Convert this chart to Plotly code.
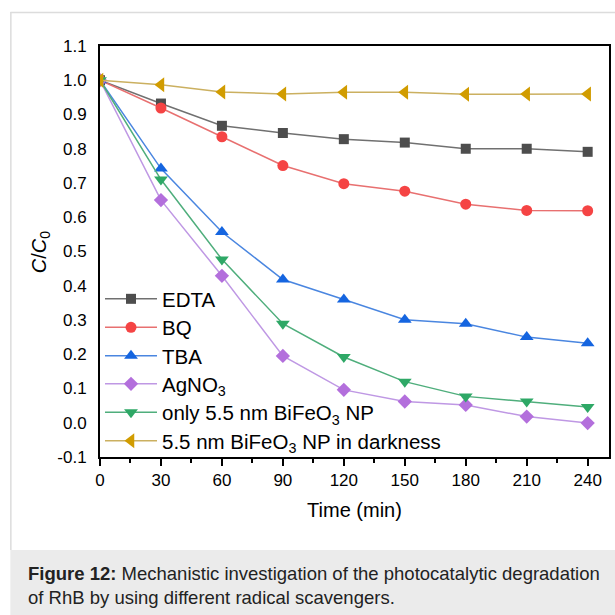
import plotly.graph_objects as go

time_min = [0, 30, 60, 90, 120, 150, 180, 210, 240]
edta = [1.0, 0.932, 0.867, 0.846, 0.828, 0.818, 0.800, 0.800, 0.791]
bq = [1.0, 0.919, 0.835, 0.751, 0.698, 0.676, 0.638, 0.620, 0.619]
tba = [1.0, 0.742, 0.557, 0.418, 0.360, 0.301, 0.289, 0.250, 0.232]
agno3 = [1.0, 0.650, 0.429, 0.195, 0.096, 0.062, 0.052, 0.018, -0.001]
only_np = [1.0, 0.710, 0.477, 0.289, 0.192, 0.120, 0.077, 0.062, 0.046]
darkness = [1.0, 0.987, 0.966, 0.960, 0.965, 0.965, 0.959, 0.960, 0.960]

series_names = ["EDTA", "BQ", "TBA", "AgNO<sub>3</sub>",
                "only 5.5 nm BiFeO<sub>3</sub> NP",
                "5.5 nm BiFeO<sub>3</sub> NP in darkness"]
series_values = [edta, bq, tba, agno3, only_np, darkness]
marker_colors = ["#4d4d4d", "#f54444", "#1565e0", "#b36fdc", "#2ea866", "#d19c00"]
line_colors = ["#707070", "#e87070", "#4a86e0", "#bf98e4", "#4fae7c", "#cbb060"]
symbols = ["square", "circle", "triangle-up", "diamond", "triangle-down", "triangle-left"]
sizes = [10, 11, 12, 11, 12, 13]

y_ticks = [-0.1, 0.0, 0.1, 0.2, 0.3, 0.4, 0.5, 0.6, 0.7, 0.8, 0.9, 1.0, 1.1]
y_tick_labels = ["-0.1", "0.0", "0.1", "0.2", "0.3", "0.4", "0.5", "0.6", "0.7", "0.8", "0.9", "1.0", "1.1"]
x_ticks = [0, 30, 60, 90, 120, 150, 180, 210, 240]

FONT = "Liberation Sans, Arial, sans-serif"

W = 511.0
H = 411.0
def px_x(p):
    return (p - 100) / W
def px_y(p):
    return (457 - p) / H

legend_rows_px = [299, 327.5, 356, 384, 412.5, 441]

fig = go.Figure()
legend_layouts = {}
for i, (name, vals) in enumerate(zip(series_names, series_values)):
    lname = "legend" if i == 0 else f"legend{i + 1}"
    fig.add_trace(go.Scatter(
        x=time_min, y=vals, name=name, mode="lines+markers",
        line=dict(color=line_colors[i], width=1.5),
        marker=dict(symbol=symbols[i], size=sizes[i], color=marker_colors[i],
                    line=dict(width=0)),
        legend=lname,
    ))
    legend_layouts[lname] = dict(
        x=0.0, y=px_y(legend_rows_px[i]), xanchor="left", yanchor="middle",
        bgcolor="rgba(0,0,0,0)", font=dict(size=20.5, family=FONT),
        itemwidth=52, borderwidth=0,
    )

fig.update_layout(
    width=615, height=615,
    margin=dict(l=100, r=4, t=46, b=158),
    paper_bgcolor="white", plot_bgcolor="white",
    font=dict(family=FONT, color="#000000"),
    showlegend=True,
    xaxis=dict(
        range=[0, 250.5], tickvals=x_ticks, ticks="outside", ticklen=7, tickwidth=1.5,
        tickcolor="#000", showline=True, linecolor="#000", linewidth=2, mirror=True,
        showgrid=False, zeroline=False, tickfont=dict(size=17),
        minor=dict(dtick=15, tick0=0, ticks="outside", ticklen=4, tickcolor="#000", tickwidth=1.5),
        title=dict(text="Time (min)", font=dict(size=20), standoff=14),
    ),
    yaxis=dict(
        range=[-0.1, 1.1], tickvals=y_ticks, ticktext=y_tick_labels, ticks="",
        showline=True, linecolor="#000", linewidth=2, mirror=True,
        showgrid=False, zeroline=False, tickfont=dict(size=17), ticklabelstandoff=8,
    ),
    shapes=[
        dict(type="rect", xref="paper", yref="paper", x0=px_x(10), x1=px_x(620),
             y0=px_y(550), y1=px_y(620), fillcolor="#ebebeb", line=dict(width=0), layer="below"),
        dict(type="line", xref="paper", yref="paper", x0=px_x(10.5), x1=px_x(10.5),
             y0=px_y(12), y1=px_y(550), line=dict(color="#dcdcdc", width=1.5)),
        dict(type="line", xref="paper", yref="paper", x0=px_x(10), x1=px_x(620),
             y0=px_y(12.5), y1=px_y(12.5), line=dict(color="#dcdcdc", width=1.5)),
    ],
    annotations=[
        dict(text="<i>C</i>/<i>C</i><sub>0</sub>", xref="paper", yref="paper",
             x=px_x(40), y=px_y(252), textangle=-90, showarrow=False,
             font=dict(size=20), xanchor="center", yanchor="middle"),
        dict(text="<b>Figure 12:</b> Mechanistic investigation of the photocatalytic degradation<br>of RhB by using different radical scavengers.",
             xref="paper", yref="paper", x=px_x(26), y=px_y(585), xanchor="left", yanchor="middle",
             align="left", showarrow=False, font=dict(size=18.5, color="#222222")),
    ],
)
fig.update_layout(**legend_layouts)

fig.write_html("out.html", config={"displayModeBar": False})
with open("out.html", "r", encoding="utf-8") as f:
    html = f.read()
html = html.replace("<head>", "<head><style>html,body{margin:0;padding:0;overflow:hidden;}</style>", 1)
with open("out.html", "w", encoding="utf-8") as f:
    f.write(html)
